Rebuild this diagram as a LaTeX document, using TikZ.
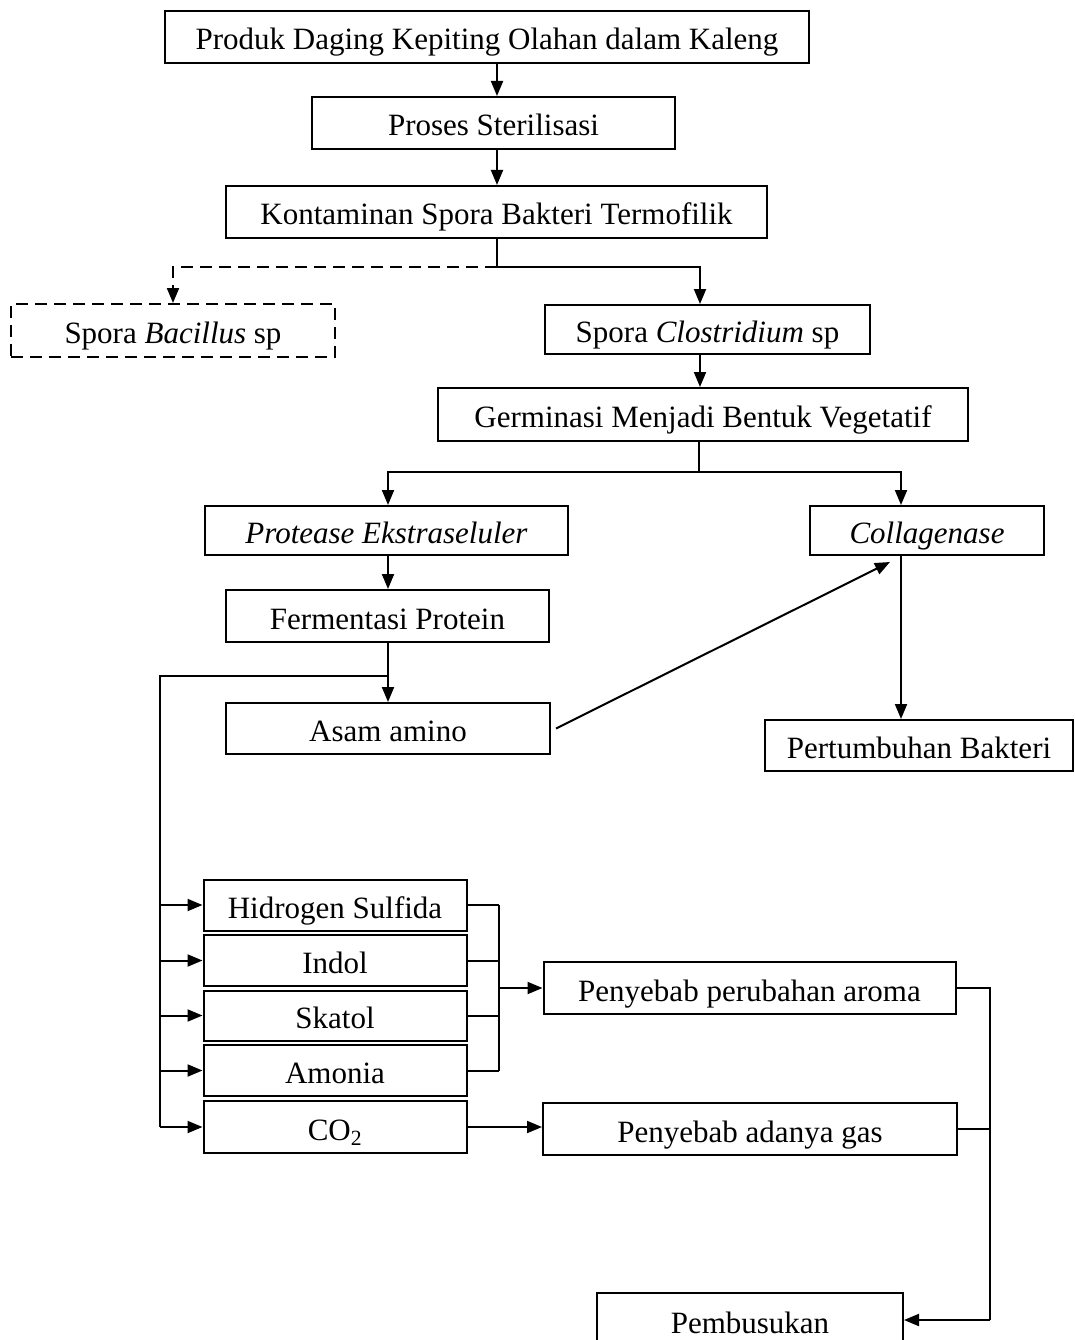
\documentclass[tikz,border=0pt]{standalone}
\usepackage{fontspec}
\setmainfont{Liberation Serif}
\usetikzlibrary{arrows.meta,calc}
\begin{document}
\begin{tikzpicture}[x=1pt,y=-1pt,
  box/.style={draw, line width=2pt, inner sep=0pt, anchor=center,
    text height=30pt, text depth=4pt,
    font=\fontsize{31}{36}\selectfont},
  dbox/.style={box, dash pattern=on 12pt off 7pt},
  conn/.style={line width=2pt},
  arr/.style={conn, -{Triangle[length=15pt,width=12pt]}},
  darr/.style={arr, dash pattern=on 12pt off 7pt}]
\useasboundingbox (0,0) rectangle (1075,1340);
\clip (0,0) rectangle (1075,1340);
% nodes
\node[box, minimum width=644pt, minimum height=52pt] (prod) at (487,37) {Produk Daging Kepiting Olahan dalam Kaleng};
\node[box, minimum width=363pt, minimum height=52pt] (ster) at (493.5,123) {Proses Sterilisasi};
\node[box, minimum width=541pt, minimum height=52pt] (kont) at (496.5,212) {Kontaminan Spora Bakteri Termofilik};
\node[dbox, minimum width=324pt, minimum height=53pt] (bac) at (173,330.5) {Spora \textit{Bacillus} sp};
\node[box, minimum width=325pt, minimum height=49pt] (clos) at (707.5,329.5) {Spora \textit{Clostridium} sp};
\node[box, minimum width=530pt, minimum height=53pt] (germ) at (703,414.5) {Germinasi Menjadi Bentuk Vegetatif};
\node[box, minimum width=363pt, minimum height=49pt] (prot) at (386.5,530.5) {\textit{Protease Ekstraseluler}};
\node[box, minimum width=234pt, minimum height=49pt] (coll) at (927,530.5) {\textit{Collagenase}};
\node[box, minimum width=323pt, minimum height=52pt] (ferm) at (387.5,616) {Fermentasi Protein};
\node[box, minimum width=324pt, minimum height=51pt] (asam) at (388,728.5) {Asam amino};
\node[box, minimum width=308pt, minimum height=51pt] (pert) at (919,745.5) {Pertumbuhan Bakteri};
\node[box, minimum width=263pt, minimum height=51pt] (hs) at (335,905) {Hidrogen Sulfida};
\node[box, minimum width=263pt, minimum height=51pt] (indol) at (335,960.5) {Indol};
\node[box, minimum width=263pt, minimum height=50pt] (skatol) at (335,1015.5) {Skatol};
\node[box, minimum width=263pt, minimum height=51pt] (amonia) at (335,1070.5) {Amonia};
\node[box, minimum width=263pt, minimum height=52pt] (co2) at (335,1127) {CO\textsubscript{2}};
\node[box, minimum width=412pt, minimum height=52pt] (aroma) at (749.5,988) {Penyebab perubahan aroma};
\node[box, minimum width=414pt, minimum height=52pt] (gas) at (750,1129) {Penyebab adanya gas};
\node[box, minimum width=306pt, minimum height=54pt] (pemb) at (750,1320) {Pembusukan};
% column coordinates
\coordinate (xa) at (497,0);
\coordinate (xc) at (700,0);
\coordinate (xp) at (388,0);
\coordinate (xq) at (901,0);
\coordinate (xl) at (160,0);
\coordinate (xr) at (499,0);
\coordinate (xR) at (990,0);
\coordinate (jk) at (497,267);
\coordinate (jg) at (699,472);
\coordinate (jf) at (388,676);
% connectors
\draw[arr] (prod.south -| xa) -- (ster.north -| xa);
\draw[arr] (ster.south -| xa) -- (kont.north -| xa);
\draw[conn] (kont.south -| jk) -- (jk);
\draw[darr] (jk) -| (bac.north);
\draw[arr] (jk) -| (clos.north -| xc);
\draw[arr] (clos.south -| xc) -- (germ.north -| xc);
\draw[conn] (germ.south -| jg) -- (jg);
\draw[arr] (jg) -| (prot.north -| xp);
\draw[arr] (jg) -| (coll.north -| xq);
\draw[arr] (prot.south -| xp) -- (ferm.north -| xp);
\draw[arr] (ferm.south -| xp) -- (asam.north -| xp);
\draw[conn] (jf) -| (co2.west -| xl);
\foreach \n in {hs,indol,skatol,amonia,co2}
  \draw[arr] (\n.west -| xl) -- (\n.west);
\draw[arr] ([xshift=5pt]asam.east) -- ([xshift=-37pt,yshift=-6pt]coll.south);
\draw[arr] (coll.south -| xq) -- (pert.north -| xq);
\foreach \n in {hs,indol,skatol,amonia}
  \draw[conn] (\n.east) -- (\n.east -| xr);
\draw[conn] (hs.east -| xr) -- (amonia.east -| xr);
\draw[arr] (aroma.west -| xr) -- (aroma.west);
\draw[arr] (co2.east) -- (co2.east -| gas.west);
\draw[conn] (aroma.east) -| (pemb.east -| xR);
\draw[conn] (gas.east) -- (gas.east -| xR);
\draw[arr] (pemb.east -| xR) -- (pemb.east);
\end{tikzpicture}
\end{document}
